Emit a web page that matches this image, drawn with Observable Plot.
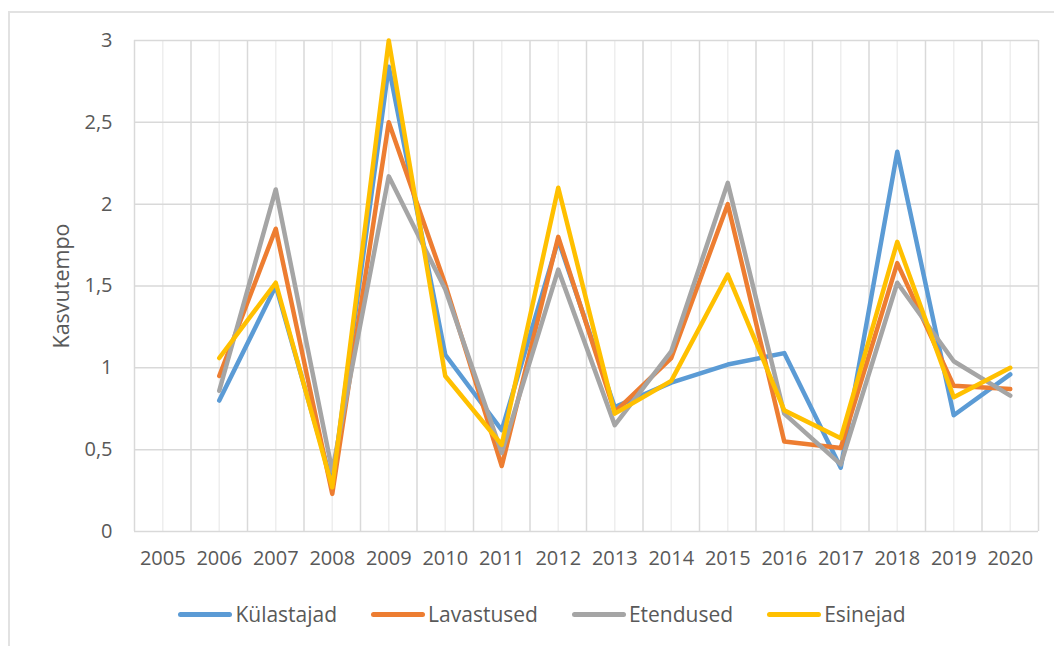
<!DOCTYPE html>
<html>
<head>
<meta charset="utf-8">
<script src="https://cdn.jsdelivr.net/npm/d3@7"></script>
<script src="https://cdn.jsdelivr.net/npm/@observablehq/plot@0.6"></script>
<style>
  html, body { margin: 0; padding: 0; background: #fff; }
  body { width: 1054px; height: 646px; position: relative; overflow: hidden; font-family: "Open Sans", sans-serif; }
  #frame { position: absolute; left: 8px; top: 11px; width: 1100px; height: 700px; border: 2px solid #e2e2e2; box-sizing: border-box; }
  #chart { position: absolute; left: 0; top: 0; }
  #ylabel { position: absolute; left: 60px; top: 286px; transform: translate(-50%, -50%) rotate(-90deg); font-size: 21.5px; color: #595959; white-space: nowrap; }
  #legend { position: absolute; left: 0; width: 1084px; top: 600px; display: flex; justify-content: center; gap: 34px; font-size: 21px; color: #595959; }
  .item { display: flex; align-items: center; gap: 3px; }
  .sw { width: 54px; height: 5px; border-radius: 3px; }
</style>
</head>
<body>
<div id="frame"></div>
<div id="chart"></div>
<div id="ylabel">Kasvutempo</div>
<div id="legend"></div>
<script>
// Categories (years) and tick labels
const years = [2005, 2006, 2007, 2008, 2009, 2010, 2011, 2012, 2013, 2014, 2015, 2016, 2017, 2018, 2019, 2020];
const dataYears = [2006, 2007, 2008, 2009, 2010, 2011, 2012, 2013, 2014, 2015, 2016, 2017, 2018, 2019, 2020];
const yTicks = [0, 0.5, 1, 1.5, 2, 2.5, 3];

// Series
const seriesNames = ["Külastajad", "Lavastused", "Etendused", "Esinejad"];
const seriesColors = ["#5B9BD5", "#ED7D31", "#A5A5A5", "#FFC000"];
const kulastajad = [0.80, 1.50, 0.29, 2.84, 1.08, 0.62, 1.78, 0.76, 0.91, 1.02, 1.09, 0.39, 2.32, 0.71, 0.96];
const lavastused = [0.95, 1.85, 0.23, 2.50, 1.51, 0.40, 1.80, 0.73, 1.06, 2.00, 0.55, 0.51, 1.64, 0.89, 0.87];
const etendused  = [0.86, 2.09, 0.37, 2.17, 1.48, 0.48, 1.60, 0.65, 1.10, 2.13, 0.72, 0.41, 1.52, 1.04, 0.83];
const esinejad   = [1.06, 1.52, 0.27, 3.00, 0.95, 0.53, 2.10, 0.72, 0.92, 1.57, 0.74, 0.57, 1.77, 0.82, 1.00];

const seriesValues = [kulastajad, lavastused, etendused, esinejad];
const rows = [];
seriesNames.forEach((name, i) => {
  seriesValues[i].forEach((v, j) => rows.push({series: name, year: dataYears[j], value: v}));
});

const boundaries = years.map(y => y - 0.5).concat([years[years.length - 1] + 0.5]);

const fmtY = d => String(d).replace(".", ",");

const chart = Plot.plot({
  width: 1054,
  height: 590,
  marginTop: 40,
  marginLeft: 134,
  marginRight: 16,
  marginBottom: 59,
  style: { fontFamily: "'Open Sans', sans-serif", fontSize: "20px", color: "#595959", background: "transparent" },
  x: { domain: [years[0] - 0.5, years[years.length - 1] + 0.5], ticks: years, tickFormat: d => String(d), tickSize: 0, tickPadding: 19, label: null },
  y: { domain: [0, 3], ticks: yTicks, tickFormat: fmtY, tickSize: 0, tickPadding: 22, label: null },
  color: { domain: seriesNames, range: seriesColors },
  marks: [
    Plot.ruleX(years, { stroke: "#eeeeee", strokeWidth: 1.5 }),
    Plot.ruleX(boundaries, { stroke: "#d9d9d9", strokeWidth: 1.5 }),
    Plot.ruleY(yTicks, { stroke: "#d9d9d9", strokeWidth: 1.5 }),
    Plot.line(rows, { x: "year", y: "value", z: "series", stroke: "series", strokeWidth: 4.5, strokeLinejoin: "round", strokeLinecap: "round" })
  ]
});
chart.querySelectorAll("text").forEach(t => t.setAttribute("fill", "#595959"));
document.getElementById("chart").appendChild(chart);

const legend = document.getElementById("legend");
seriesNames.forEach((name, i) => {
  const item = document.createElement("div");
  item.className = "item";
  const sw = document.createElement("div");
  sw.className = "sw";
  sw.style.background = seriesColors[i];
  const label = document.createElement("span");
  label.textContent = name;
  item.appendChild(sw);
  item.appendChild(label);
  legend.appendChild(item);
});
</script>
</body>
</html>
